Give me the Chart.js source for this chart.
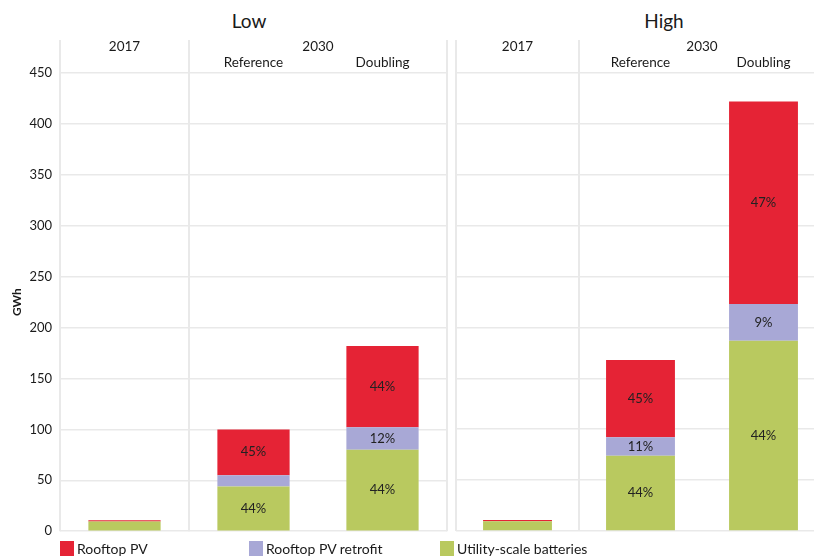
<!DOCTYPE html>
<html>
<head>
<meta charset="utf-8">
<script src="https://cdn.jsdelivr.net/npm/chart.js@4.4.1/dist/chart.umd.min.js"></script>
<style>
  body { margin: 0; background: #fff; font-family: Lato, "Open Sans", sans-serif; color: #1a1a1a; }
  #wrap { position: relative; width: 814px; height: 558px; overflow: hidden; }
  .panel { position: absolute; top: 0; }
  .ptitle { position: absolute; top: 9px; font-size: 19px; width: 100px; text-align: center; }
  .legend { position: absolute; top: 541px; font-size: 14px; line-height: 15px; }
  .legend span { display: inline-block; width: 14px; height: 15px; vertical-align: top; margin-right: 3px; }
</style>
</head>
<body>
<div id="wrap">
  <div class="ptitle" style="left:199px">Low</div>
  <div class="ptitle" style="left:614px">High</div>
  <div class="panel" style="left:0; width:448px; height:533px;"><canvas id="low"></canvas></div>
  <div class="panel" style="left:448px; width:377px; height:533px;"><canvas id="high"></canvas></div>
  <div class="legend" style="left:60px"><span style="background:#e52335"></span>Rooftop PV</div>
  <div class="legend" style="left:249px"><span style="background:#a8a8d6"></span>Rooftop PV retrofit</div>
  <div class="legend" style="left:440px"><span style="background:#b9c95f"></span>Utility-scale batteries</div>
</div>
<script>
// categories and year headers
var scenarios = ['', 'Reference', 'Doubling'];
var yearGroups = [['2017', 0, 0], ['2030', 1, 2]];

// GWh values
var lowRooftop   = [1.2, 45, 80];
var lowRetrofit  = [0, 11, 22];
var lowUtility   = [9.5, 44, 80];
var highRooftop  = [1.2, 76, 199];
var highRetrofit = [0, 18, 36];
var highUtility  = [9.5, 74, 187];

// share labels printed inside the segments
var lowRooftopPct   = ['', '45%', '44%'];
var lowRetrofitPct  = ['', '', '12%'];
var lowUtilityPct   = ['', '44%', '44%'];
var highRooftopPct  = ['', '45%', '47%'];
var highRetrofitPct = ['', '11%', '9%'];
var highUtilityPct  = ['', '44%', '44%'];

var yTicks = { min: 0, max: 450, step: 50 };

var red = '#e52335', purple = '#a8a8d6', green = '#b9c95f';
var lineColor = '#e9e9e9';
var fontFamily = 'Lato, "Open Sans", sans-serif';

var headerPlugin = {
  id: 'header',
  beforeDatasetsDraw: function(chart) {
    var ctx = chart.ctx, area = chart.chartArea, x = chart.scales.x;
    var sep = (x.getPixelForValue(0) + x.getPixelForValue(1)) / 2;
    ctx.save();
    ctx.strokeStyle = lineColor;
    ctx.lineWidth = 2;
    [area.left, sep, area.right].forEach(function(px) {
      ctx.beginPath();
      ctx.moveTo(px, 40);
      ctx.lineTo(px, area.bottom);
      ctx.stroke();
    });
    ctx.restore();
  },
  afterDatasetsDraw: function(chart) {
    var ctx = chart.ctx, x = chart.scales.x;
    ctx.save();
    ctx.fillStyle = '#1a1a1a';
    ctx.textAlign = 'center';
    ctx.textBaseline = 'middle';
    ctx.font = '13.5px ' + fontFamily;
    yearGroups.forEach(function(g) {
      var cx = (x.getPixelForValue(g[1]) + x.getPixelForValue(g[2])) / 2;
      ctx.fillText(g[0], cx, chart.chartArea.top - 26);
    });
    // segment share labels
    ctx.font = '13px ' + fontFamily;
    ctx.fillStyle = '#222';
    chart.data.datasets.forEach(function(ds, i) {
      var meta = chart.getDatasetMeta(i);
      meta.data.forEach(function(bar, j) {
        var t = ds.pct[j];
        if (t) ctx.fillText(t, bar.x, (bar.y + bar.base) / 2);
      });
    });
    ctx.restore();
  }
};

function makePanel(id, rooftop, retrofit, utility, pcts, showAxis) {
  var ctx = document.getElementById(id).getContext('2d');
  return new Chart(ctx, {
    type: 'bar',
    data: {
      labels: scenarios,
      datasets: [{
        label: 'Utility-scale batteries',
        data: utility,
        pct: pcts[2],
        backgroundColor: green
      }, {
        label: 'Rooftop PV retrofit',
        data: retrofit,
        pct: pcts[1],
        backgroundColor: purple
      }, {
        label: 'Rooftop PV',
        data: rooftop,
        pct: pcts[0],
        backgroundColor: red
      }]
    },
    options: {
      responsive: true,
      maintainAspectRatio: false,
      animation: false,
      layout: { padding: { top: 40, bottom: 2, left: showAxis ? 6 : 8, right: showAxis ? 1 : 0 } },
      datasets: { bar: { categoryPercentage: 1, barPercentage: 0.56 } },
      plugins: { legend: { display: false }, tooltip: { enabled: false } },
      scales: {
        x: {
          stacked: true,
          position: 'top',
          grid: { display: false, drawTicks: false },
          border: { display: false },
          ticks: { padding: 2, color: '#1a1a1a', font: { family: fontFamily, size: 13.5 } },
          afterFit: function(s) { s.height = 33; }
        },
        y: {
          stacked: true,
          min: yTicks.min,
          max: yTicks.max,
          grid: { color: lineColor, lineWidth: 1.5, drawTicks: false },
          border: { display: false },
          ticks: {
            display: showAxis,
            stepSize: yTicks.step,
            padding: 8,
            color: '#1a1a1a',
            font: { family: fontFamily, size: 13 }
          },
          title: {
            display: showAxis,
            text: 'GWh',
            color: '#1a1a1a',
            font: { family: fontFamily, size: 12, weight: 'bold' }
          },
          afterFit: function(s) { s.width = showAxis ? 54 : 0; }
        }
      }
    },
    plugins: [headerPlugin]
  });
}

// the tick labels of the left panel push its plot area up; give that canvas the extra room
document.querySelector('#low').parentNode.style.height = '547px';

makePanel('low', lowRooftop, lowRetrofit, lowUtility,
  [lowRooftopPct, lowRetrofitPct, lowUtilityPct], true);
makePanel('high', highRooftop, highRetrofit, highUtility,
  [highRooftopPct, highRetrofitPct, highUtilityPct], false);
</script>
</body>
</html>
